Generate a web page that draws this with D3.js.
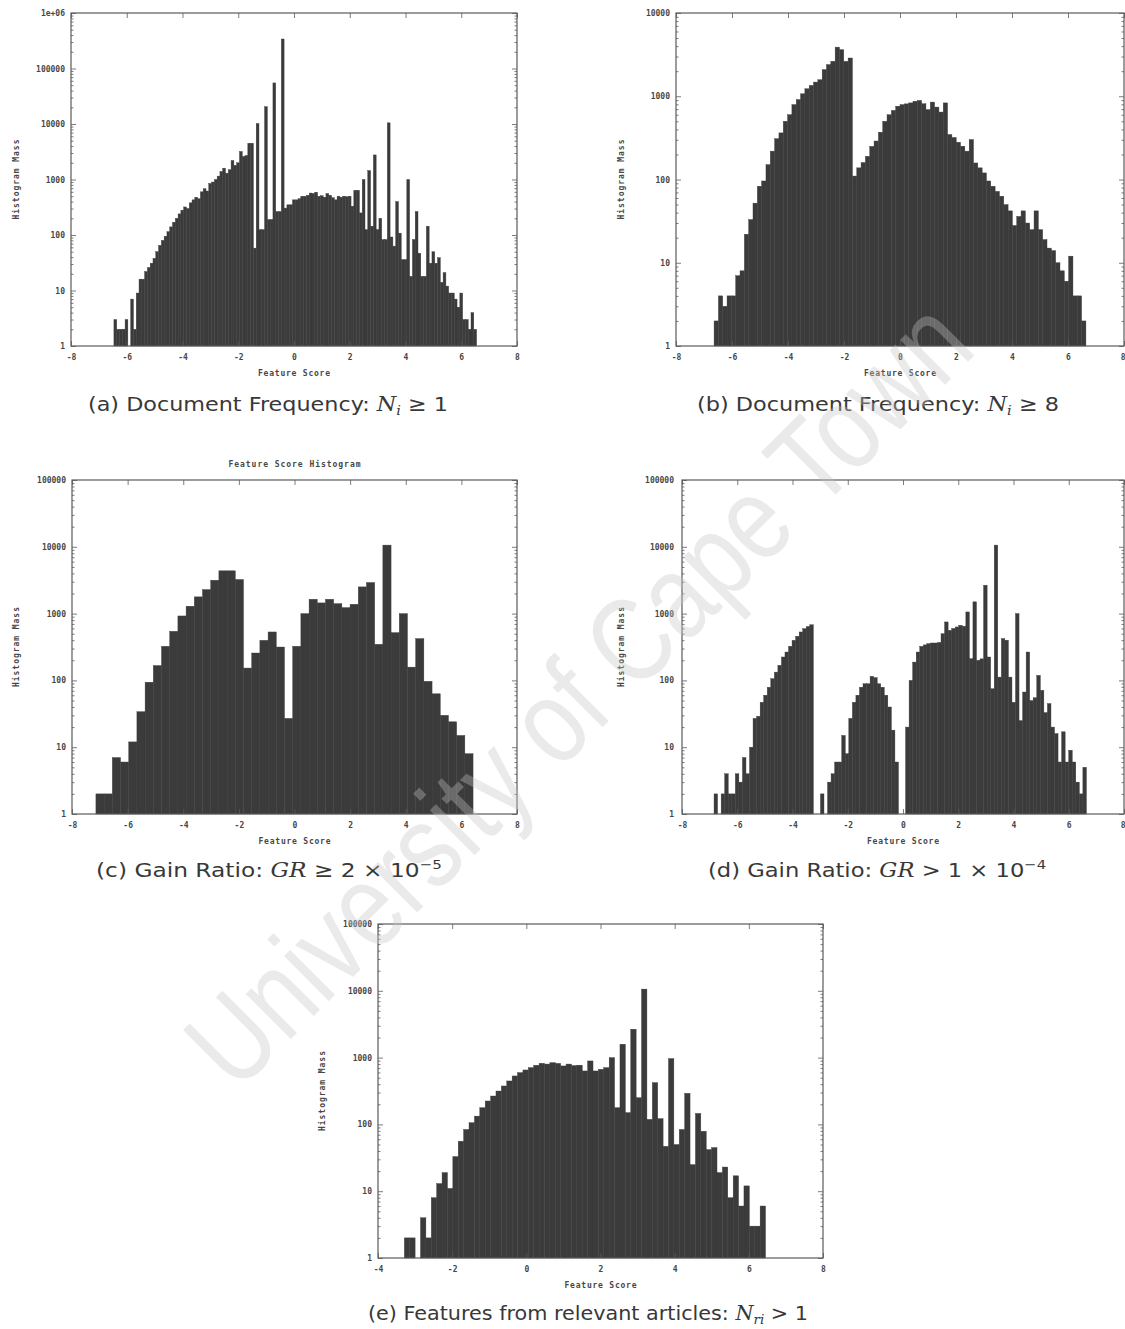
<!DOCTYPE html>
<html>
<head>
<meta charset="utf-8">
<script src="https://cdn.jsdelivr.net/npm/d3@7"></script>
<style>
  body { margin: 0; background: #fff; }
  svg { display: block; }
</style>
</head>
<body>
<svg id="fig" width="1125" height="1329"></svg>
<script>
// ---- data ----
// histogram masses per bin, bins run evenly from *Start to *End (feature score)
const countsA = [
  3,2,2,2,3,0,7,2,9,16,
  16,22,26,31,38,50,65,80,95,115,
  140,170,200,240,280,320,300,380,430,480,
  450,600,680,620,850,900,1000,1150,1400,1600,
  1300,1500,2200,1800,2000,3200,2600,2700,4500,4500,
  58,10200,125,125,20500,190,190,55000,265,265,
  340000,305,350,350,430,430,450,500,500,520,
  570,560,590,500,510,480,560,520,470,430,
  500,480,500,490,500,330,640,640,250,1000,
  125,1450,144,2770,125,200,83,83,10500,92,
  63,400,108,36,36,1000,18,83,265,47,
  18,18,144,31,50,31,39,14,21,12,
  9,9,7,5,9,3,3,2,4,2
];
const startA = -6.46, endA = 6.55;

const countsB = [
  2,4,3,4,4,7,8,22,33,52,
  83,96,151,219,309,363,501,600,794,912,
  1070,1230,1350,1480,1580,2090,2400,2630,3890,3630,
  2630,2880,110,138,160,190,250,290,370,500,
  600,676,759,794,810,832,871,891,813,692,
  851,741,646,832,347,320,280,251,219,302,
  158,138,120,96,83,72,63,50,42,28,
  36,42,30,25,42,25,19,15,14,10,
  8,6,12,4,4,2
];
const startB = -6.64, endB = 6.64;

const countsC = [
  2,2,7,6,12,34,94,167,324,543,
  922,1290,1780,2290,3160,4370,4370,3240,153,257,
  398,531,316,27,324,1000,1640,1445,1640,1410,
  1230,1380,2510,2920,347,10600,519,1000,158,422,
  97,63,30,24,15,8
];
const startC = -7.14, endC = 6.42;

const countsD = [
  2,0,2,4,2,2,4,3,7,4,
  10,27,29,47,60,79,106,133,168,224,
  266,324,398,457,531,596,640,680,0,0,
  2,0,3,4,6,6,15,8,27,47,
  60,79,89,89,115,110,89,79,60,40,
  18,6,0,0,20,100,188,266,324,340,
  355,363,363,370,500,750,562,600,631,668,
  646,1059,211,1500,200,210,2660,224,75,10600,
  112,422,400,112,47,1000,25,67,266,50,
  55,119,71,33,45,20,16,6,17,6,
  9,6,3,2,5
];
const startD = -6.84, endD = 6.64;

const countsE = [
  2,2,0,4,2,8,13,19,11,33,
  56,84,106,133,178,224,266,316,376,447,
  531,596,653,708,767,822,800,840,820,750,
  800,760,770,631,891,631,668,708,1000,178,
  1585,150,2660,251,10600,119,422,122,47,966,
  50,84,292,25,146,79,42,45,19,23,
  8,17,6,12,3,3,6
];
const startE = -3.29, endE = 6.45;

// tick labels
const xTicks = [-8, -6, -4, -2, 0, 2, 4, 6, 8];
const xTicksE = [-4, -2, 0, 2, 4, 6, 8];
const yLabels6 = ["1", "10", "100", "1000", "10000", "100000", "1e+06"];
const yLabels5 = ["1", "10", "100", "1000", "10000", "100000"];
const yLabels4 = ["1", "10", "100", "1000", "10000"];

const xTitle = "Feature Score";
const yTitle = "Histogram Mass";
const plotTitle = "Feature Score Histogram";
const watermark = "University of Cape Town";

// captions as pieces: plain text, math italic, sub / superscript
const captionA = [["(a) Document Frequency: ", ""], ["N", "it"], ["i", "sub"], [" \u2265 1", ""]];
const captionB = [["(b) Document Frequency: ", ""], ["N", "it"], ["i", "sub"], [" \u2265 8", ""]];
const captionC = [["(c) Gain Ratio: ", ""], ["GR", "it"], [" \u2265 2 \u00d7 10", ""], ["\u22125", "sup"]];
const captionD = [["(d) Gain Ratio: ", ""], ["GR", "it"], [" > 1 \u00d7 10", ""], ["\u22124", "sup"]];
const captionE = [["(e) Features from relevant articles: ", ""], ["N", "it"], ["ri", "sub"], [" > 1", ""]];

// ---- drawing ----
const svg = d3.select("#fig");
const barFill = "#3b3b3b";
const frameColor = "#5a5a5a";
const tickFont = "'DejaVu Sans Mono', monospace";

function drawPanel(p) {
  const g = svg.append("g");
  const b = p.box;
  const x = d3.scaleLinear().domain(p.xDomain).range([b.left, b.right]);
  const y = d3.scaleLog().domain([1, p.yMax]).range([b.bottom, b.top]);
  const w = (p.end - p.start) / p.counts.length;

  g.selectAll("rect.bar")
    .data(p.counts)
    .join("rect")
      .attr("class", "bar")
      .attr("x", (d, i) => x(p.start + i * w))
      .attr("width", (d, i) => x(p.start + (i + 1) * w) - x(p.start + i * w))
      .attr("y", d => d > 1 ? y(d) : b.bottom)
      .attr("height", d => d > 1 ? b.bottom - y(d) : 0)
      .attr("fill", barFill)
      .attr("stroke", barFill)
      .attr("stroke-width", 0.4);

  const decades = Math.round(Math.log10(p.yMax));
  const majors = d3.range(0, decades + 1).map(k => Math.pow(10, k));
  const minors = [];
  for (let k = 0; k < decades; k++)
    for (let m = 2; m <= 9; m++) minors.push(m * Math.pow(10, k));

  // left + right
  g.append("g").attr("class", "ax")
    .call(d3.axisLeft(y).tickValues(majors).tickFormat((d, i) => p.yLabels[i])
      .tickSizeInner(-5).tickSizeOuter(0).tickPadding(p.yPad))
    .attr("transform", `translate(${b.left},0)`);
  g.append("g").attr("class", "ax")
    .call(d3.axisLeft(y).tickValues(minors).tickFormat("").tickSizeInner(-2.5).tickSizeOuter(0))
    .attr("transform", `translate(${b.left},0)`);
  g.append("g").attr("class", "ax")
    .call(d3.axisRight(y).tickValues(majors).tickFormat("").tickSizeInner(-5).tickSizeOuter(0))
    .attr("transform", `translate(${b.right},0)`);
  g.append("g").attr("class", "ax")
    .call(d3.axisRight(y).tickValues(minors).tickFormat("").tickSizeInner(-2.5).tickSizeOuter(0))
    .attr("transform", `translate(${b.right},0)`);

  // bottom + top
  const bottomAx = g.append("g").attr("class", "ax")
    .call(d3.axisBottom(x).tickValues(p.xTicks).tickFormat(d => String(d))
      .tickSizeInner(-5).tickSizeOuter(0).tickPadding(8))
    .attr("transform", `translate(0,${b.bottom})`);
  // last label sits on the page edge for the right-hand panels
  if (b.right > 1110) bottomAx.selectAll(".tick:last-of-type text").attr("text-anchor", "end").attr("dx", 1);
  g.append("g").attr("class", "ax")
    .call(d3.axisTop(x).tickValues(p.xTicks).tickFormat("").tickSizeInner(-5).tickSizeOuter(0))
    .attr("transform", `translate(0,${b.top})`);

  g.selectAll(".ax .domain").remove();
  g.selectAll(".ax line").attr("stroke", frameColor).attr("stroke-width", 0.8);
  g.selectAll(".ax text")
    .attr("font-family", tickFont)
    .attr("font-size", 8)
    .attr("font-weight", "bold")
    .attr("fill", "#474747");

  g.append("rect")
    .attr("x", b.left).attr("y", b.top)
    .attr("width", b.right - b.left).attr("height", b.bottom - b.top)
    .attr("fill", "none").attr("stroke", frameColor).attr("stroke-width", 1.2);

  // axis titles
  const cx = (b.left + b.right) / 2, cy = (b.top + b.bottom) / 2;
  g.append("text")
    .attr("x", cx).attr("y", b.bottom + 30)
    .attr("text-anchor", "middle")
    .attr("font-family", tickFont).attr("font-size", 8).attr("font-weight", "bold")
    .attr("fill", "#474747")
    .attr("textLength", 72).attr("lengthAdjust", "spacing")
    .text(xTitle);
  g.append("text")
    .attr("transform", `translate(${p.ylabX},${cy}) rotate(-90)`)
    .attr("text-anchor", "middle")
    .attr("font-family", tickFont).attr("font-size", 8).attr("font-weight", "bold")
    .attr("fill", "#474747")
    .attr("textLength", 80).attr("lengthAdjust", "spacing")
    .text(yTitle);
  if (p.title) {
    g.append("text")
      .attr("x", cx).attr("y", b.top - 13)
      .attr("text-anchor", "middle")
      .attr("font-family", tickFont).attr("font-size", 8).attr("font-weight", "bold")
      .attr("fill", "#474747")
      .attr("textLength", 132).attr("lengthAdjust", "spacing")
      .text(p.title);
  }

  // caption
  const cap = svg.append("text")
    .attr("x", p.capX).attr("y", p.capY)
    .attr("font-family", "'DejaVu Sans', sans-serif")
    .attr("font-size", 20)
    .attr("fill", "#383838")
    .attr("textLength", p.capW).attr("lengthAdjust", "spacingAndGlyphs");
  p.caption.forEach(([t, kind]) => {
    const s = cap.append("tspan").text(t);
    if (kind === "it") s.attr("font-family", "'DejaVu Serif', serif").attr("font-style", "italic");
    if (kind === "sub") s.attr("font-family", "'DejaVu Serif', serif").attr("font-style", "italic")
      .attr("font-size", 13).attr("baseline-shift", "-4");
    if (kind === "sup") s.attr("font-size", 13).attr("baseline-shift", "8");
  });
}

drawPanel({ box: {left: 71, right: 517, top: 13, bottom: 346}, counts: countsA, start: startA, end: endA,
  xDomain: [-8, 8], xTicks: xTicks, yMax: 1e6, yLabels: yLabels6, yPad: 6, ylabX: 19,
  caption: captionA, capX: 88, capY: 411, capW: 360 });
drawPanel({ box: {left: 676, right: 1124, top: 13, bottom: 346}, counts: countsB, start: startB, end: endB,
  xDomain: [-8, 8], xTicks: xTicks, yMax: 1e4, yLabels: yLabels4, yPad: 6, ylabX: 624,
  caption: captionB, capX: 697, capY: 411, capW: 362 });
drawPanel({ box: {left: 72, right: 517, top: 480, bottom: 814}, counts: countsC, start: startC, end: endC,
  xDomain: [-8, 8], xTicks: xTicks, yMax: 1e5, yLabels: yLabels5, yPad: 6, ylabX: 19,
  title: plotTitle,
  caption: captionC, capX: 96, capY: 877, capW: 346 });
drawPanel({ box: {left: 682, right: 1124, top: 480, bottom: 814}, counts: countsD, start: startD, end: endD,
  xDomain: [-8, 8], xTicks: xTicks, yMax: 1e5, yLabels: yLabels5, yPad: 8, ylabX: 624,
  caption: captionD, capX: 708, capY: 877, capW: 338 });
drawPanel({ box: {left: 378, right: 823, top: 924, bottom: 1258}, counts: countsE, start: startE, end: endE,
  xDomain: [-4, 8], xTicks: xTicksE, yMax: 1e5, yLabels: yLabels5, yPad: 6, ylabX: 325,
  caption: captionE, capX: 368, capY: 1320, capW: 440 });

// watermark across the page
svg.append("text")
  .attr("transform", "translate(585,700) rotate(-45)")
  .attr("text-anchor", "middle")
  .attr("dominant-baseline", "middle")
  .attr("font-family", "'Liberation Sans', sans-serif")
  .attr("font-size", 120)
  .attr("fill", "#c4c4c4")
  .attr("opacity", 0.35)
  .attr("textLength", 1050).attr("lengthAdjust", "spacingAndGlyphs")
  .text(watermark);
</script>
</body>
</html>
